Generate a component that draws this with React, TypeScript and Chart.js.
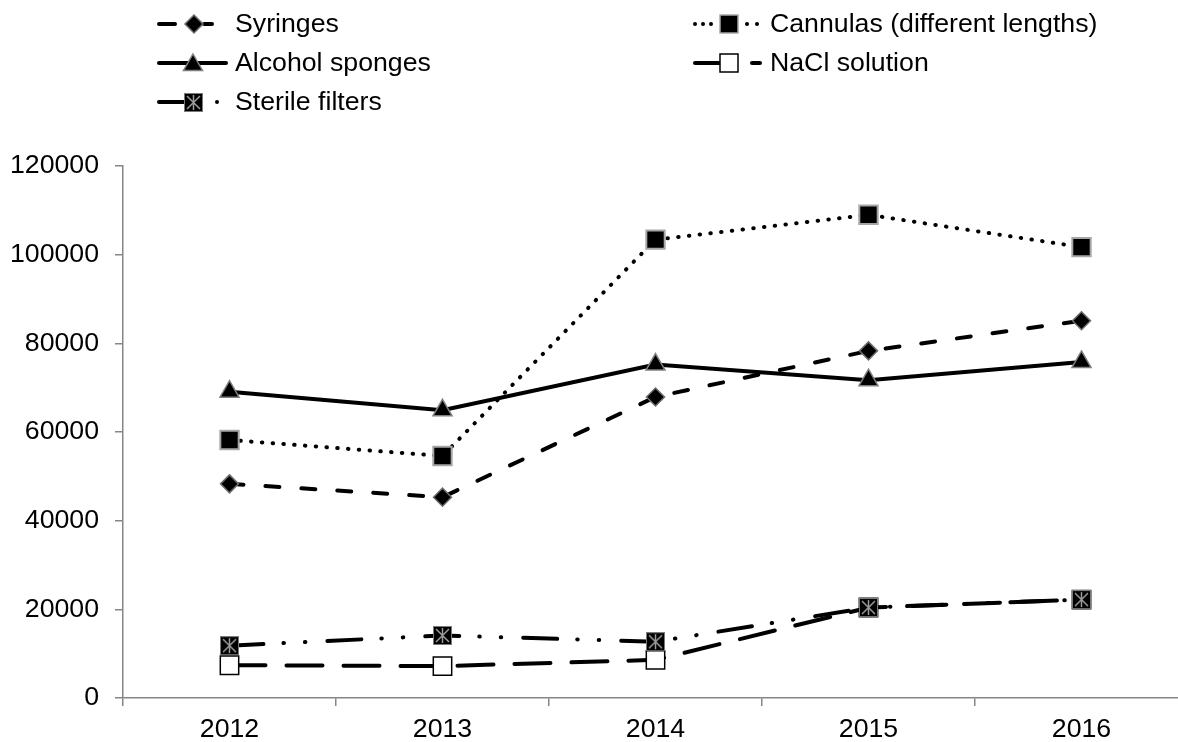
import React, { useEffect, useRef } from "react";
import { Chart, registerables } from "chart.js";

Chart.register(...registerables);

const years = ["2012", "2013", "2014", "2015", "2016"];
const syringes = [48300, 45300, 67900, 78300, 85100];
const cannulas = [58200, 54600, 103400, 109000, 101700];
const alcoholSponges = [69100, 64900, 75200, 71700, 75800];
const naclSolution = [7400, 7200, 8600, 20400, 22200];
const sterileFilters = [11800, 14100, 12700, 20400, 22200];
const yTicks = [0, 20000, 40000, 60000, 80000, 100000, 120000];

const FAMILY = '"Liberation Sans", Arial, sans-serif';
const FSIZE = 26.7;
const FONT = `${FSIZE}px ${FAMILY}`;
const AXIS_GRAY = "#868686";

function makeSterileMarker(): HTMLCanvasElement {
  const c = document.createElement("canvas");
  c.width = 19;
  c.height = 19;
  const g = c.getContext("2d")!;
  g.fillStyle = "#000";
  g.fillRect(0, 0, 19, 19);
  g.strokeStyle = "#7a7a7a";
  g.lineWidth = 1;
  g.strokeRect(0.5, 0.5, 18, 18);
  g.strokeStyle = "#9a9a9a";
  g.lineWidth = 1.5;
  g.beginPath();
  g.moveTo(9.5, 2);
  g.lineTo(9.5, 17);
  g.moveTo(3, 3);
  g.lineTo(16, 16);
  g.moveTo(16, 3);
  g.lineTo(3, 16);
  g.stroke();
  return c;
}

export default function App() {
  const ref = useRef<HTMLCanvasElement>(null);

  useEffect(() => {
    const sterileImg = makeSterileMarker();

    const drawDiamond = (ctx: CanvasRenderingContext2D, x: number, y: number) => {
      ctx.beginPath();
      ctx.moveTo(x, y - 9);
      ctx.lineTo(x + 9, y);
      ctx.lineTo(x, y + 9);
      ctx.lineTo(x - 9, y);
      ctx.closePath();
      ctx.fillStyle = "#000";
      ctx.fill();
      ctx.strokeStyle = "#6d6d6d";
      ctx.lineWidth = 1.5;
      ctx.stroke();
    };
    const drawSquare = (ctx: CanvasRenderingContext2D, x: number, y: number, fill: string, stroke: string) => {
      ctx.fillStyle = fill;
      ctx.fillRect(x - 9, y - 9, 18, 18);
      ctx.strokeStyle = stroke;
      ctx.lineWidth = 1.5;
      ctx.strokeRect(x - 9, y - 9, 18, 18);
    };
    const drawTriangle = (ctx: CanvasRenderingContext2D, x: number, y: number) => {
      const r = 11;
      ctx.beginPath();
      ctx.moveTo(x, y - r);
      ctx.lineTo(x + r * 0.866, y + r / 2);
      ctx.lineTo(x - r * 0.866, y + r / 2);
      ctx.closePath();
      ctx.fillStyle = "#000";
      ctx.fill();
      ctx.strokeStyle = "#808080";
      ctx.lineWidth = 1.5;
      ctx.stroke();
    };
    const seg = (ctx: CanvasRenderingContext2D, x1: number, x2: number, y: number) => {
      ctx.beginPath();
      ctx.moveTo(x1, y);
      ctx.lineTo(x2, y);
      ctx.stroke();
    };
    const dot = (ctx: CanvasRenderingContext2D, x: number, y: number) => {
      ctx.beginPath();
      ctx.arc(x, y, 2, 0, Math.PI * 2);
      ctx.fillStyle = "#000";
      ctx.fill();
    };

    const legendPlugin = {
      id: "customLegend",
      afterDraw(chart: any) {
        const ctx = chart.ctx as CanvasRenderingContext2D;
        ctx.save();
        ctx.strokeStyle = "#000";
        ctx.lineWidth = 4;
        ctx.lineCap = "round";
        // Syringes
        let y = 24;
        seg(ctx, 159, 175, y);
        seg(ctx, 204, 212, y);
        drawDiamond(ctx, 194, y);
        // Alcohol sponges
        y = 63;
        ctx.strokeStyle = "#000";
        ctx.lineWidth = 4;
        seg(ctx, 159, 226, y);
        drawTriangle(ctx, 193, y + 2);
        // Sterile filters
        y = 102;
        ctx.strokeStyle = "#000";
        ctx.lineWidth = 4;
        seg(ctx, 159, 185, y);
        ctx.drawImage(sterileImg, 184, y - 9);
        dot(ctx, 217, y);
        // Cannulas
        y = 24;
        dot(ctx, 695, y);
        dot(ctx, 703, y);
        dot(ctx, 711, y);
        drawSquare(ctx, 729, y, "#000", "#a6a6a6");
        dot(ctx, 747, y);
        dot(ctx, 757, y);
        // NaCl
        y = 63;
        ctx.strokeStyle = "#000";
        ctx.lineWidth = 4;
        seg(ctx, 695, 720, y);
        ctx.lineWidth = 4;
        seg(ctx, 752, 760, y);
        drawSquare(ctx, 729, y, "#fff", "#000");

        ctx.fillStyle = "#000";
        ctx.font = FONT;
        ctx.textBaseline = "middle";
        ctx.textAlign = "left";
        ctx.fillText("Syringes", 235, 25);
        ctx.fillText("Alcohol sponges", 235, 64);
        ctx.fillText("Sterile filters", 235, 103);
        ctx.fillText("Cannulas (different lengths)", 770, 25);
        ctx.fillText("NaCl solution", 770, 64);
        ctx.restore();
      },
    };

    const common = {
      borderColor: "#000",
      borderWidth: 4,
      borderCapStyle: "round" as const,
      tension: 0,
      fill: false,
      pointBorderWidth: 1.5,
      pointHoverRadius: 10,
    };

    const chart = new Chart(ref.current!, {
      type: "line",
      data: {
        labels: years,
        datasets: [
          {
            ...common,
            label: "Syringes",
            data: syringes,
            order: 2,
            borderDash: [14, 22],
            pointStyle: "rectRot",
            pointRadius: 9,
            pointBackgroundColor: "#000",
            pointBorderColor: "#6d6d6d",
          },
          {
            ...common,
            label: "Cannulas (different lengths)",
            data: cannulas,
            order: 2,
            borderDash: [0.5, 10.3],
            pointStyle: "rect",
            pointRadius: 13,
            pointBackgroundColor: "#000",
            pointBorderColor: "#a6a6a6",
            pointBorderWidth: 2,
          },
          {
            ...common,
            label: "Alcohol sponges",
            data: alcoholSponges,
            order: 2,
            pointStyle: "triangle",
            pointRadius: 11,
            pointBackgroundColor: "#000",
            pointBorderColor: "#808080",
          },
          {
            ...common,
            label: "NaCl solution",
            data: naclSolution,
            order: 2,
            borderDash: [36, 21],
            pointStyle: "rect",
            pointRadius: 13,
            pointBackgroundColor: "#fff",
            pointBorderColor: "#000",
          },
          {
            ...common,
            label: "Sterile filters",
            data: sterileFilters,
            order: 1,
            borderDash: [34, 20, 0.5, 21, 0.5, 22],
            pointStyle: sterileImg as any,
            pointRadius: 10,
          },
        ],
      },
      options: {
        animation: false,
        responsive: true,
        maintainAspectRatio: false,
        layout: { padding: { top: 166, right: 0, bottom: 0, left: 0 } },
        plugins: {
          legend: { display: false },
          tooltip: { enabled: false },
        },
        scales: {
          x: {
            type: "category",
            offset: true,
            grid: {
              display: true,
              offset: true,
              drawOnChartArea: false,
              drawTicks: true,
              tickLength: 8,
              color: AXIS_GRAY,
              lineWidth: 1.5,
            },
            border: { display: true, color: AXIS_GRAY, width: 1.5 },
            ticks: {
              color: "#000",
              font: { family: FAMILY, size: FSIZE },
              padding: 8,
              maxRotation: 0,
              autoSkip: false,
            },
            afterFit(scale: any) {
              scale.height = 44;
            },
          },
          y: {
            type: "linear",
            min: 0,
            max: 120000,
            afterBuildTicks(scale: any) {
              scale.ticks = yTicks.map((v) => ({ value: v }));
            },
            grid: {
              display: true,
              drawOnChartArea: false,
              drawTicks: true,
              tickLength: 8,
              color: AXIS_GRAY,
              lineWidth: 1.5,
            },
            border: { display: true, color: AXIS_GRAY, width: 1.5 },
            ticks: {
              color: "#000",
              font: { family: FAMILY, size: FSIZE },
              padding: 16,
              callback: (v: any) => String(v),
            },
            afterFit(scale: any) {
              scale.width = 123;
            },
          },
        },
      },
      plugins: [legendPlugin],
    });
    return () => chart.destroy();
  }, []);

  return (
    <div
      style={{
        position: "fixed",
        left: 0,
        top: 0,
        width: 1178,
        height: 742,
        overflow: "hidden",
        background: "#fff",
      }}
    >
      <div style={{ position: "relative", width: 1203, height: 742 }}>
        <canvas ref={ref} />
      </div>
    </div>
  );
}
